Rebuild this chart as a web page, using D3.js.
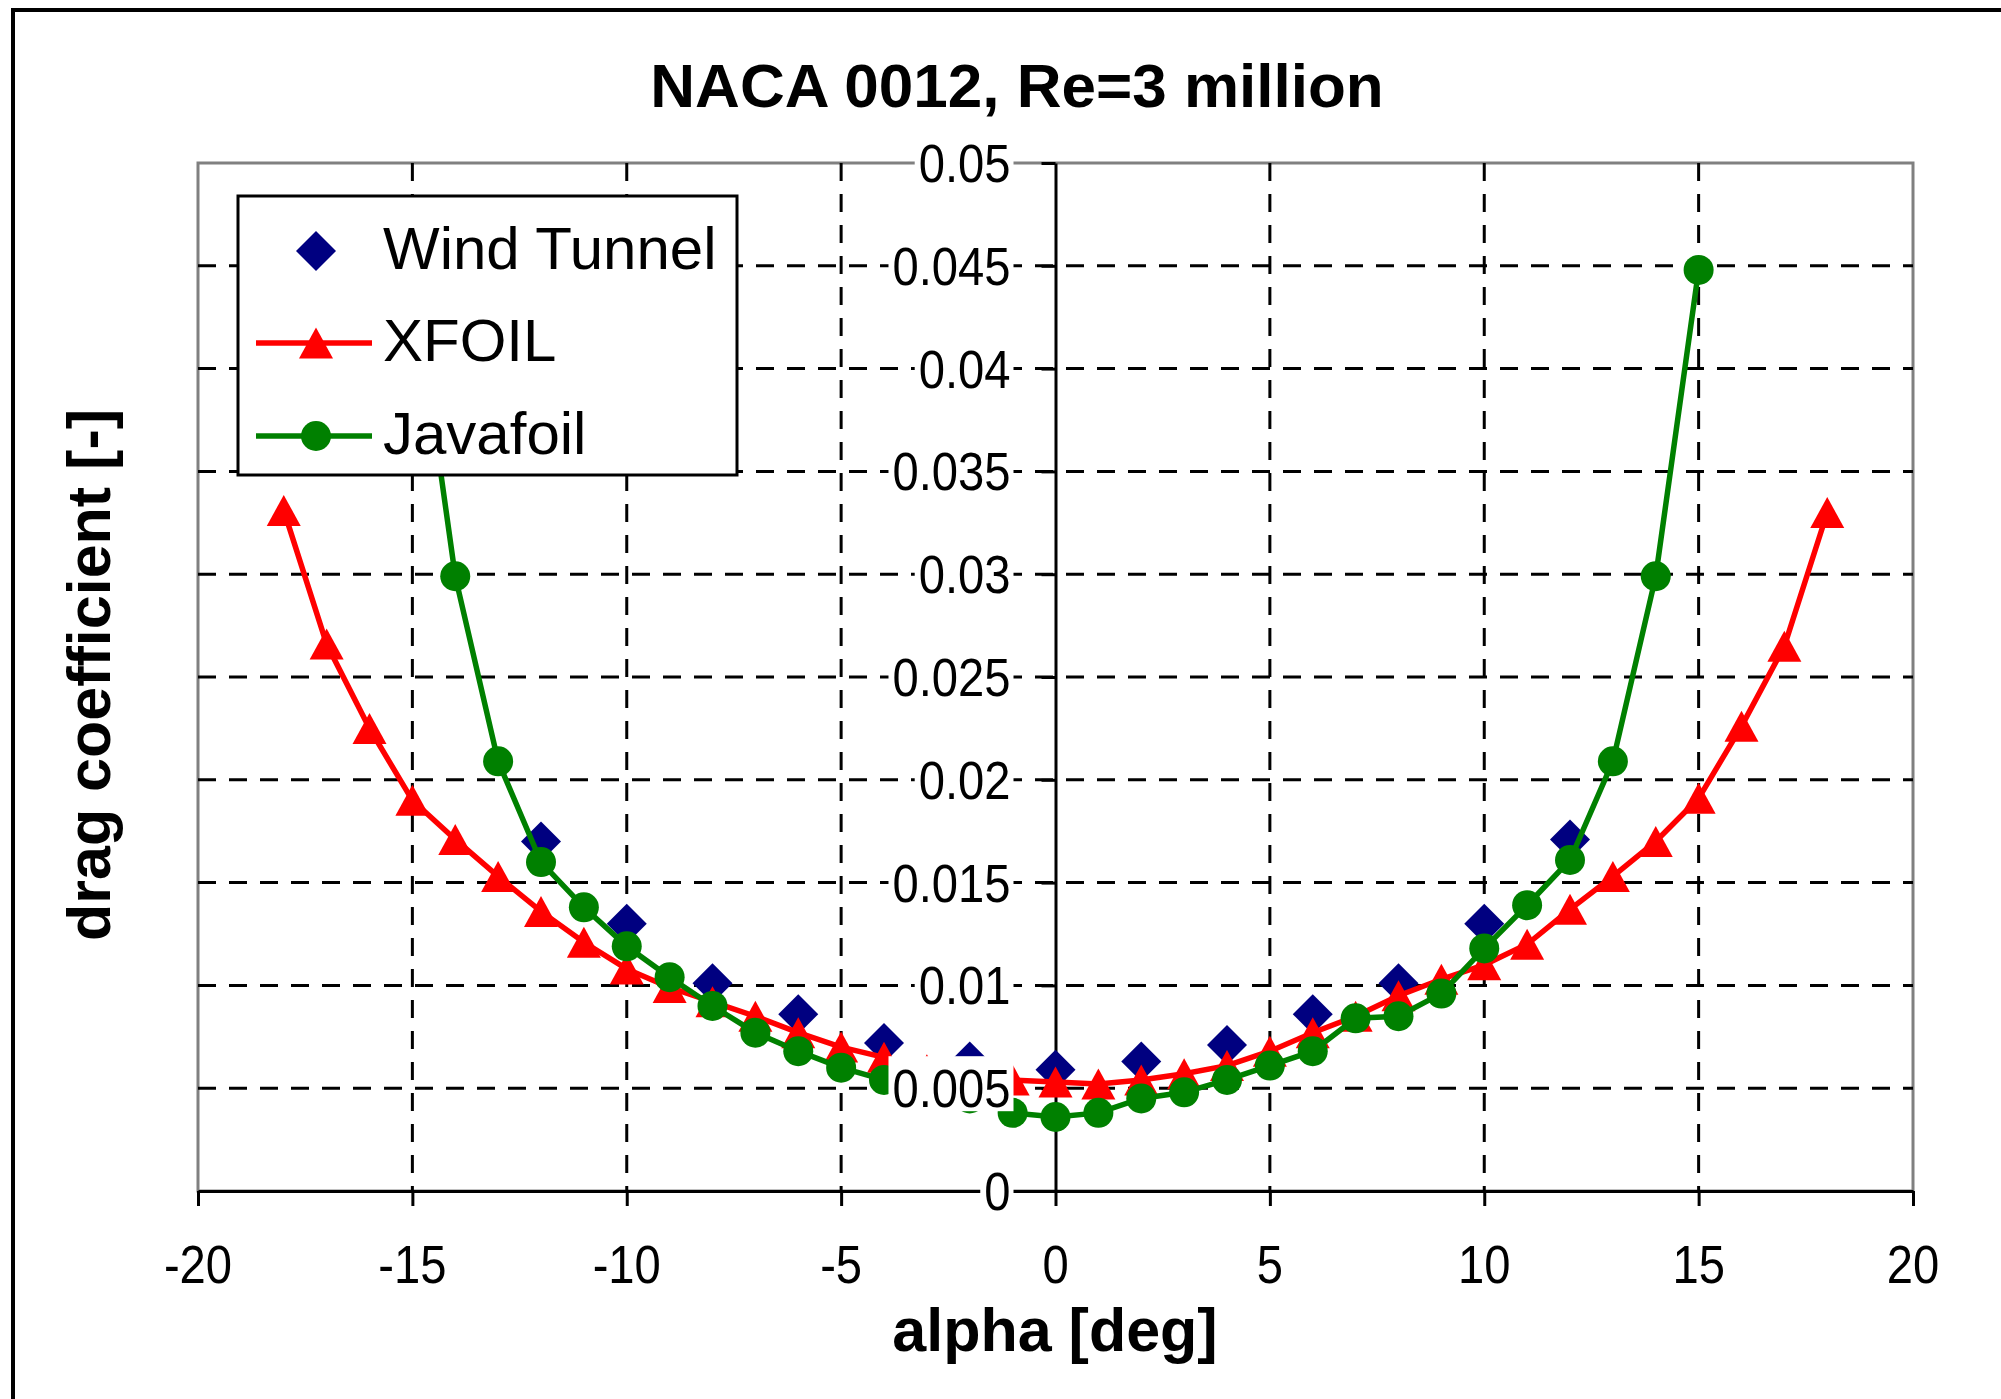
<!DOCTYPE html>
<html>
<head>
<meta charset="utf-8">
<script src="https://cdn.jsdelivr.net/npm/d3@7"></script>
<style>
  body { margin: 0; background: #fff; }
  svg { display: block; }
  text { font-family: "Liberation Sans", Arial, sans-serif; }
</style>
</head>
<body>
<div id="chart"></div>
<script>
// data
var windAlpha = [-12, -10, -8, -6, -4, -2, 0, 2, 4, 6, 8, 10, 12];
var windCd    = [0.0170, 0.0130, 0.0101, 0.0086, 0.0072, 0.0063, 0.0059, 0.0063, 0.0071, 0.0086, 0.0101, 0.0130, 0.0171];

var xfoilAlpha = [-18, -17, -16, -15, -14, -13, -12, -11, -10, -9, -8, -7, -6, -5, -4, -3, -2, -1,
                  0, 1, 2, 3, 4, 5, 6, 7, 8, 9, 10, 11, 12, 13, 14, 15, 16, 17, 18];
var xfoilCd = [0.0331, 0.0266, 0.0225, 0.0190, 0.0171, 0.0153, 0.0136, 0.0121, 0.0108, 0.0099, 0.0092, 0.0085, 0.0077, 0.0070, 0.0065, 0.0059, 0.0056, 0.0054,
               0.0053, 0.0052, 0.0054, 0.0057, 0.0061, 0.0068, 0.0077, 0.0085, 0.0095, 0.0103, 0.0110, 0.0120, 0.0137, 0.0153, 0.0170, 0.0191, 0.0226, 0.0265, 0.0330];

var javaAlpha = [-15, -14, -13, -12, -11, -10, -9, -8, -7, -6, -5, -4, -3, -2, -1,
                 0, 1, 2, 3, 4, 5, 6, 7, 8, 9, 10, 11, 12, 13, 14, 15];
var javaCd = [0.0448, 0.0299, 0.0209, 0.0160, 0.0138, 0.0119, 0.0104, 0.0090, 0.0077, 0.0068, 0.0060, 0.0054, 0.0048, 0.0045, 0.0038,
              0.0036, 0.0038, 0.0045, 0.0048, 0.0054, 0.0061, 0.0068, 0.0084, 0.0085, 0.0096, 0.0118, 0.0139, 0.0161, 0.0209, 0.0299, 0.0448];

var xTicks = [-20, -15, -10, -5, 0, 5, 10, 15, 20];
var xTickLabels = ["-20", "-15", "-10", "-5", "0", "5", "10", "15", "20"];
var yTicks = [0, 0.005, 0.01, 0.015, 0.02, 0.025, 0.03, 0.035, 0.04, 0.045, 0.05];
var yTickLabels = ["0", "0.005", "0.01", "0.015", "0.02", "0.025", "0.03", "0.035", "0.04", "0.045", "0.05"];
var xGrid = [-15, -10, -5, 5, 10, 15];
var yGrid = [0.005, 0.01, 0.015, 0.02, 0.025, 0.03, 0.035, 0.04, 0.045];

var seriesNames = ["Wind Tunnel", "XFOIL", "Javafoil"];

var width = 2001, height = 1399;
var plot = {left: 198, right: 1913, top: 163, bottom: 1191};

var x = d3.scaleLinear().domain([-20, 20]).range([plot.left, plot.right]);
var y = d3.scaleLinear().domain([0, 0.05]).range([plot.bottom, plot.top]);

var svg = d3.select("#chart").append("svg")
    .attr("width", width)
    .attr("height", height);

svg.append("rect").attr("width", width).attr("height", height).attr("fill", "#fff");

// outer chart frame (only top and left edges are inside the picture)
svg.append("path")
    .attr("d", "M13," + height + "V10H" + width)
    .attr("fill", "none")
    .attr("stroke", "#000")
    .attr("stroke-width", 4);

// title
svg.append("text")
    .attr("x", 1017).attr("y", 107)
    .attr("text-anchor", "middle")
    .style("font-size", "62px").style("font-weight", "bold")
    .text("NACA 0012, Re=3 million");

// plot area
svg.append("rect")
    .attr("x", plot.left).attr("y", plot.top)
    .attr("width", plot.right - plot.left).attr("height", plot.bottom - plot.top)
    .attr("fill", "#fff")
    .attr("stroke", "#808080")
    .attr("stroke-width", 3);

// dashed grid
var grid = svg.append("g")
    .attr("stroke", "#000")
    .attr("stroke-width", 3)
    .attr("stroke-dasharray", "18,13");
grid.selectAll(".hg").data(yGrid).enter().append("line")
    .attr("x1", plot.left).attr("x2", plot.right)
    .attr("y1", function(d) { return y(d); })
    .attr("y2", function(d) { return y(d); });
grid.selectAll(".vg").data(xGrid).enter().append("line")
    .attr("y1", plot.top).attr("y2", plot.bottom)
    .attr("x1", function(d) { return x(d); })
    .attr("x2", function(d) { return x(d); });

// axes crossing at zero, labels drawn later on top of the data
var xAxis = d3.axisBottom(x).tickValues(xTicks).tickSize(15).tickSizeOuter(0).tickFormat("");
var yAxis = d3.axisLeft(y).tickValues(yTicks).tickSize(14).tickSizeOuter(0).tickFormat("");

var gx = svg.append("g")
    .attr("transform", "translate(0," + y(0) + ")")
    .call(xAxis);
var gy = svg.append("g")
    .attr("transform", "translate(" + x(0) + ",0)")
    .call(yAxis);
[gx, gy].forEach(function(g) {
  g.select(".domain").attr("stroke", "#000").attr("stroke-width", 3);
  g.selectAll(".tick line").attr("stroke", "#000").attr("stroke-width", 3);
});

// marker shapes
function diamond(s) { return "M0," + (-s) + "L" + s + ",0L0," + s + "L" + (-s) + ",0Z"; }
function triangle(w, h) { return "M0," + (-h / 2) + "L" + (w / 2) + "," + (h / 2) + "L" + (-w / 2) + "," + (h / 2) + "Z"; }

var line = d3.line()
    .x(function(d) { return x(d[0]); })
    .y(function(d) { return y(d[1]); });

var windData = d3.zip(windAlpha, windCd);
var xfoilData = d3.zip(xfoilAlpha, xfoilCd);
var javaData = d3.zip(javaAlpha, javaCd);

// Wind Tunnel: markers only
svg.append("g").selectAll("path").data(windData).enter().append("path")
    .attr("d", diamond(20))
    .attr("transform", function(d) { return "translate(" + x(d[0]) + "," + y(d[1]) + ")"; })
    .attr("fill", "#000080");

// XFOIL
svg.append("path")
    .datum(xfoilData)
    .attr("d", line)
    .attr("fill", "none")
    .attr("stroke", "#ff0000")
    .attr("stroke-width", 5.5);
svg.append("g").selectAll("path").data(xfoilData).enter().append("path")
    .attr("d", triangle(34, 31))
    .attr("transform", function(d) { return "translate(" + x(d[0]) + "," + y(d[1]) + ")"; })
    .attr("fill", "#ff0000");

// Javafoil
svg.append("path")
    .datum(javaData)
    .attr("d", line)
    .attr("fill", "none")
    .attr("stroke", "#008000")
    .attr("stroke-width", 5.5);
svg.append("g").selectAll("circle").data(javaData).enter().append("circle")
    .attr("cx", function(d) { return x(d[0]); })
    .attr("cy", function(d) { return y(d[1]); })
    .attr("r", 15)
    .attr("fill", "#008000");

// y tick labels with opaque background, like the original
var tickFont = 53, squeeze = 0.89;
var yl = svg.append("g").selectAll("g").data(yTicks).enter().append("g")
    .attr("transform", function(d) { return "translate(" + (x(0) - 45) + "," + y(d) + ")"; });
yl.append("rect").attr("fill", "#fff");
yl.append("text")
    .attr("text-anchor", "end")
    .attr("transform", "scale(" + squeeze + ",1)")
    .attr("y", tickFont * 0.36)
    .style("font-size", tickFont + "px")
    .text(function(d, i) { return yTickLabels[i]; });
yl.each(function() {
  var g = d3.select(this);
  var w = g.select("text").node().getComputedTextLength() * squeeze;
  g.select("rect").attr("x", -w - 4).attr("y", -32).attr("width", w + 7).attr("height", 55);
});

// x tick labels
svg.append("g").selectAll("text").data(xTicks).enter().append("text")
    .attr("transform", function(d) { return "translate(" + x(d) + ",1283) scale(" + squeeze + ",1)"; })
    .attr("text-anchor", "middle")
    .style("font-size", tickFont + "px")
    .text(function(d, i) { return xTickLabels[i]; });

// axis titles
svg.append("text")
    .attr("x", 1055).attr("y", 1351)
    .attr("text-anchor", "middle")
    .style("font-size", "61px").style("font-weight", "bold")
    .text("alpha [deg]");
svg.append("text")
    .attr("transform", "translate(110,675) rotate(-90)")
    .attr("text-anchor", "middle")
    .style("font-size", "61px").style("font-weight", "bold")
    .text("drag coefficient [-]");

// legend
var legend = svg.append("g");
legend.append("rect")
    .attr("x", 238).attr("y", 196)
    .attr("width", 499).attr("height", 279)
    .attr("fill", "#fff")
    .attr("stroke", "#000")
    .attr("stroke-width", 3);

var rowY = [251, 343, 436];
legend.append("path")
    .attr("d", diamond(20))
    .attr("transform", "translate(316," + rowY[0] + ")")
    .attr("fill", "#000080");
legend.append("line")
    .attr("x1", 256).attr("x2", 372).attr("y1", rowY[1]).attr("y2", rowY[1])
    .attr("stroke", "#ff0000").attr("stroke-width", 5.5);
legend.append("path")
    .attr("d", triangle(34, 31))
    .attr("transform", "translate(316," + rowY[1] + ")")
    .attr("fill", "#ff0000");
legend.append("line")
    .attr("x1", 256).attr("x2", 372).attr("y1", rowY[2]).attr("y2", rowY[2])
    .attr("stroke", "#008000").attr("stroke-width", 5.5);
legend.append("circle")
    .attr("cx", 316).attr("cy", rowY[2]).attr("r", 15)
    .attr("fill", "#008000");

legend.selectAll(".lt").data(seriesNames).enter().append("text")
    .attr("x", 383)
    .attr("y", function(d, i) { return rowY[i] + 18; })
    .style("font-size", "60px")
    .text(function(d) { return d; });
</script>
</body>
</html>
